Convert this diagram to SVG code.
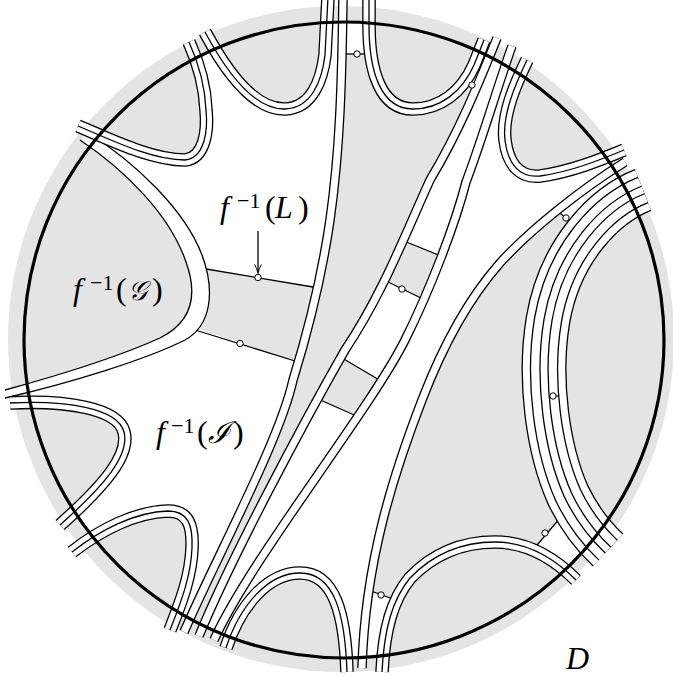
<svg xmlns="http://www.w3.org/2000/svg" width="673" height="677" viewBox="0 0 673 677">
<style>
.k2{fill:none;stroke:#000;stroke-width:9.6}
.w2{fill:none;stroke:#fff;stroke-width:7}
.k3{fill:none;stroke:#000;stroke-width:13.6}
.w3{fill:none;stroke:#fff;stroke-width:11}
.c3{fill:none;stroke:#000;stroke-width:1.3}
.ka{fill:none;stroke:#000;stroke-width:45}
.wa{fill:none;stroke:#fff;stroke-width:42.4}
.kb{fill:none;stroke:#000;stroke-width:28.4}
.wb{fill:none;stroke:#fff;stroke-width:25.8}
.kc{fill:none;stroke:#000;stroke-width:9.4}
.wc{fill:none;stroke:#fff;stroke-width:6.8}
.ln{fill:none;stroke:#000;stroke-width:1.3}
.dot{fill:#fff;stroke:#000;stroke-width:1}
.wf{fill:#fff;stroke:none}
.gf{fill:#e4e4e4;stroke:none}
text{font-family:"Liberation Serif","DejaVu Serif",serif;font-size:32px}
.it{font-style:italic}
.sup{font-size:22px}
</style>
<defs>
<clipPath id="disc"><ellipse cx="344" cy="340" rx="320" ry="318"/></clipPath>
<path id="pLA" d="M 78,126 C 105,137 150,160 185,160 C 205,158 208,130 206,110 C 205,85 198,62 189,42"/>
<path id="pLB" d="M 205,32 C 220,60 250,110 285,109 C 312,108 322,80 325,55 L 328,-3"/>
<path id="pLC" d="M 369,-3 L 369,25 C 369,70 380,109 413,109 C 440,109 462,92 474,65 L 484,40"/>
<path id="pLH" d="M 527,60 C 515,85 502,115 505,140 C 508,165 520,178 540,176 C 570,172 600,160 624,150"/>
<path id="pLD" d="M 10,403 C 65,400 118,408 124,432 C 130,455 105,485 60,525"/>
<path id="pLE" d="M 72,552 C 100,530 135,512 168,511 C 188,511 193,525 192,548 C 191,575 182,600 170,630"/>
<path id="pLF" d="M 226,648 C 240,605 268,573 300,573 C 335,573 345,615 347,672"/>
<path id="pLJ" d="M 382,672 C 384,630 392,600 410,578 C 435,552 465,542 495,542 C 525,542 552,556 576,580"/>
<path id="pBA" d="M 343,-5 C 342,80 340,150 330,220 C 322,275 310,325 293,380 C 280,440 215,560 184,632"/>
<path id="pBB" d="M 497,38 C 480,80 460,130 430,180 C 405,235 382,295 345,350 C 305,420 230,560 199,636"/>
<path id="pBC" d="M 512,46 C 498,85 482,140 466,182 C 455,225 430,290 405,340 C 370,410 250,560 214,640"/>
<path id="pBD" d="M 625,162 C 580,190 530,230 500,263 C 470,297 445,340 422,400 C 395,470 365,560 362,668"/>
<path id="pBU" d="M 643,190 C 605,205 560,250 548,320 C 538,380 548,450 568,495 C 578,516 592,535 608,550"/>
<path id="pGI" d="M 80,140 C 125,170 170,215 186,262 C 198,295 192,322 160,338 C 120,356 60,375 5,390"/>
<path id="pGO" d="M 88,133 C 135,162 185,210 202,255 C 215,290 212,325 185,340 C 145,360 70,383 5,398"/>
</defs>

<ellipse id="halo" cx="341" cy="339" rx="333" ry="333" fill="#e4e4e4"/>

<g id="regions" clip-path="url(#disc)">
<path id="W1" class="wf" d="M 88,133 C 135,162 185,210 202,255 L 206.6,270 L 313,287 L 316.5,289 L 323,260 L 330,220 L 335,180 L 338,130 L 340,80 L 342,30 L 343,-5 L 328,-3 L 325,55 C 322,80 312,108 285,109 C 250,110 220,60 205,32 L 189,42 C 198,62 205,85 206,110 C 208,130 205,158 185,160 C 150,160 105,137 78,126 Z"/>
<path id="W2" class="wf" d="M 5,398 C 70,383 145,360 185,340 L 198,329 L 295,361 L 298.5,361 L 293,380 C 280,440 215,560 184,632 L 170,630 C 182,600 191,575 192,548 C 193,525 188,511 168,511 C 135,512 100,530 72,552 L 60,525 C 105,485 130,455 124,432 C 118,408 65,400 10,403 Z"/>
<path id="channel" class="wf" d="M 497,38 C 480,80 460,130 430,180 C 405,235 382,295 345,350 C 305,420 230,560 199,636 L 214,640 C 250,560 370,410 405,340 C 430,290 455,225 466,182 C 482,140 498,85 512,46 Z"/>
<path id="W3" class="wf" d="M 512,46 C 498,85 482,140 466,182 C 455,225 430,290 405,340 C 370,410 250,560 214,640 L 226,648 C 240,605 268,573 300,573 C 335,573 345,615 347,672 L 362,668 C 365,560 395,470 422,400 C 445,340 470,297 500,263 C 530,230 580,190 625,162 L 624,150 C 600,160 570,172 540,176 C 520,178 508,165 505,140 C 502,115 515,85 527,60 Z"/>
<path id="w-a" class="wf" d="M 342,54 L 369,54 L 369,-5 L 343,-5 Z"/>
<path id="w-b" class="wf" d="M 461,87 L 468,76 L 474,65 L 484,40 L 497,38 L 489,57 L 481,78 L 481,82 Z"/>
<path id="w-c" class="wf" d="M 557,211 L 591,185 L 625,162 L 643,190 L 626,197 L 605,212 L 588,236 L 580,228 Z"/>
<path id="w-d" class="wf" d="M 532,551 L 566,511 L 577,511 L 583,522 L 600,543 L 620,562 L 576,580 L 555,563 Z"/>
<path id="w-e" class="wf" d="M 368,590 L 396,600 L 387.5,627 L 382,672 L 362,668 L 365,621 Z"/>
<path id="rect1" class="gf" d="M 404,241 L 441,256 L 423,299 L 384,280 Z"/>
<path id="rect2" class="gf" d="M 342,357 L 381,381 L 361,418 L 318,399 Z"/>
</g>

<g id="segments">
<path class="ln" d="M 206,269 L 313,287"/>
<path class="ln" d="M 192,329 L 295,361"/>
<path class="ln" d="M 404,241 L 441,256"/>
<path class="ln" d="M 384,280 L 423,299"/>
<path class="ln" d="M 342,358 L 381,381"/>
<path class="ln" d="M 318,399 L 361,418"/>
<path class="ln" d="M 342,54 L 369,54"/>
<path class="ln" d="M 461,87 L 481,82"/>
<path class="ln" d="M 557,211 L 580,228"/>
<path class="ln" d="M 532,551 L 566,511"/>
<path class="ln" d="M 368,590 L 396,600"/>
</g>

<g id="g-band">
<path class="wf" d="M 88,133 C 135,162 185,210 202,255 C 215,290 212,325 185,340 C 145,360 70,383 5,398 L 5,390 C 60,375 120,356 160,338 C 192,322 198,295 186,262 C 170,215 125,170 80,140 Z"/>
<use href="#pGI" class="ln"/>
<use href="#pGO" class="ln"/>
</g>

<g id="lobe-A"><use href="#pLA" class="k3"/><use href="#pLA" class="w3"/><use href="#pLA" class="c3"/></g>
<g id="lobe-B"><use href="#pLB" class="k3"/><use href="#pLB" class="w3"/><use href="#pLB" class="c3"/></g>
<g id="lobe-C"><use href="#pLC" class="k3"/><use href="#pLC" class="w3"/><use href="#pLC" class="c3"/></g>
<g id="lobe-H"><use href="#pLH" class="k3"/><use href="#pLH" class="w3"/><use href="#pLH" class="c3"/></g>
<g id="lobe-D"><use href="#pLD" class="k3"/><use href="#pLD" class="w3"/><use href="#pLD" class="c3"/></g>
<g id="lobe-E"><use href="#pLE" class="k3"/><use href="#pLE" class="w3"/><use href="#pLE" class="c3"/></g>
<g id="lobe-F"><use href="#pLF" class="k3"/><use href="#pLF" class="w3"/><use href="#pLF" class="c3"/></g>
<g id="lobe-J"><use href="#pLJ" class="k3"/><use href="#pLJ" class="w3"/><use href="#pLJ" class="c3"/></g>
<g id="band-A"><use href="#pBA" class="k2"/><use href="#pBA" class="w2"/></g>
<g id="band-B"><use href="#pBB" class="k2"/><use href="#pBB" class="w2"/></g>
<g id="band-C"><use href="#pBC" class="k2"/><use href="#pBC" class="w2"/></g>
<g id="band-D"><use href="#pBD" class="k2"/><use href="#pBD" class="w2"/></g>
<g id="bundle"><use href="#pBU" class="ka"/><use href="#pBU" class="wa"/><use href="#pBU" class="kb"/><use href="#pBU" class="wb"/><use href="#pBU" class="kc"/><use href="#pBU" class="wc"/>
<path class="ln" d="M 549,396 L 558,396"/></g>

<ellipse id="boundary" cx="344" cy="340" rx="320" ry="318" fill="none" stroke="#000" stroke-width="3.2"/>

<g id="dots">
<circle class="dot" cx="258" cy="277.5" r="3.2"/>
<circle class="dot" cx="240" cy="343.5" r="3.2"/>
<circle class="dot" cx="357" cy="54" r="3.2"/>
<circle class="dot" cx="472" cy="85" r="3.2"/>
<circle class="dot" cx="402" cy="289" r="3.2"/>
<circle class="dot" cx="566" cy="218" r="3.2"/>
<circle class="dot" cx="553" cy="396" r="3.2"/>
<circle class="dot" cx="545" cy="533" r="3.2"/>
<circle class="dot" cx="381" cy="595" r="3.2"/>
</g>

<g id="arrow">
<path class="ln" d="M 258,231 L 258,272"/>
<path fill="none" stroke="#000" stroke-width="1" d="M 254.6,264.5 Q 257,268.5 258,273.5 Q 259,268.5 261.4,264.5"/>
</g>

<g id="labels">
<text y="218"><tspan class="it" x="220">f</tspan><tspan class="sup" x="237" y="208">−1</tspan><tspan x="265" y="218">(</tspan><tspan class="it" x="275">L</tspan><tspan x="298">)</tspan></text>
<text y="300"><tspan class="it" x="73">f</tspan><tspan class="sup" x="90" y="290">−1</tspan><tspan x="116" y="300">(</tspan><tspan class="it" x="128" style="font-size:27px">𝒢</tspan><tspan x="152">)</tspan></text>
<text y="443"><tspan class="it" x="156">f</tspan><tspan class="sup" x="171" y="433">−1</tspan><tspan x="197" y="443">(</tspan><tspan class="it" x="208" style="font-size:30px">ℐ</tspan><tspan x="233">)</tspan></text>
<text class="it" x="566" y="669">D</text>
</g>
</svg>
